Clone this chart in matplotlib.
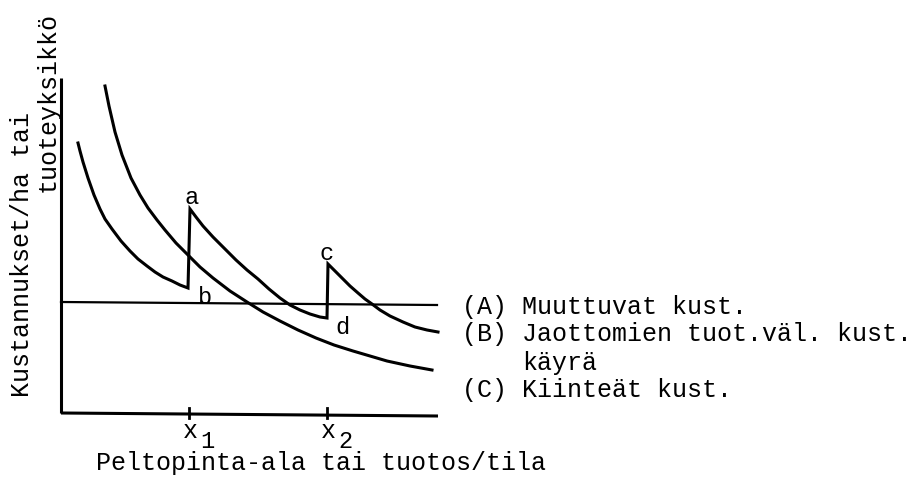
import matplotlib
matplotlib.use("Agg")
import matplotlib.pyplot as plt

# picture units: x to the right of the y axis, y above the x axis
# (B) stepped average cost curve, three pieces with jumps at x1 and x2
b_x = [17, 19, 22, 27, 33, 39, 44, 51, 60, 69, 77, 86, 94, 102, 111, 119,
       127,
       129, 135, 142, 152, 164, 175, 186, 197, 208, 219, 229, 239, 249, 259,
       266,
       267, 274, 281, 289, 297, 304, 311, 319, 329, 342, 354, 366, 377]
b_y = [270, 262, 251, 235, 218, 204, 194, 184, 172, 162, 154, 147, 141, 136,
       132, 128, 125,
       204, 196, 187, 176, 164, 153, 143, 134, 124, 115, 108, 103, 99, 96,
       95,
       149, 142, 135, 127, 120, 114, 109, 103, 97, 91, 86, 83, 81]

# (C) fixed cost curve
c_x = [44, 48, 54, 61, 70, 79, 87, 96, 104, 115, 127, 139, 152, 169, 186,
       202, 219, 237, 255, 273, 292, 309, 326, 349, 371]
c_y = [327, 307, 281, 258, 235, 218, 205, 193, 183, 170, 158, 146, 135, 122,
       111, 101, 92, 83, 75, 68, 62, 57, 52, 47, 43]

# (A) variable cost line
a_x = [0, 376]
a_y = [111, 108]

tick_x = [128, 266]
tick_names = ["1", "2"]

point_names = ["a", "b", "c", "d"]
point_x = [131, 144, 266, 281]
point_y = [216, 116, 160, 86]

legend_lines = ["(A) Muuttuvat kust.", "(B) Jaottomien tuot.väl. kust.",
                "käyrä", "(C) Kiinteät kust."]
legend_x = [401, 401, 461, 401]
legend_y = [106, 79, 50, 23]

FONT = ["Liberation Mono", "DejaVu Sans Mono"]
FS = 18


def main():
    fig = plt.figure(figsize=(9.24, 4.78), dpi=100)
    ax = fig.add_axes([0, 0, 1, 1])
    ax.set_xlim(-61, 863)
    ax.set_ylim(-65, 413)
    ax.axis("off")

    # axes drawn by hand, like the original sketch
    ax.plot([0, 0], [0, 335], color="black", lw=2.2, solid_capstyle="butt")
    ax.plot([0, 377], [0, -3], color="black", lw=2.2, solid_capstyle="butt")
    for tx in tick_x:
        ax.plot([tx, tx], [-5, 5], color="black", lw=2.0)

    ax.plot(a_x, a_y, color="black", lw=1.6)
    ax.plot(b_x, b_y, color="black", lw=2.2, solid_joinstyle="miter")
    ax.plot(c_x, c_y, color="black", lw=2.2)

    for name, px, py in zip(point_names, point_x, point_y):
        ax.text(px, py, name, family=FONT, fontsize=FS - 1,
                ha="center", va="center")

    for tx, name in zip(tick_x, tick_names):
        ax.text(tx + 1, -18, "x", family=FONT, fontsize=FS,
                ha="center", va="center")
        ax.text(tx + 18, -28, name, family=FONT, fontsize=FS - 1,
                ha="center", va="center")

    ax.text(35, -50, "Peltopinta-ala tai tuotos/tila", family=FONT,
            fontsize=FS, ha="left", va="center")

    ax.text(-39, 16, "Kustannukset/ha tai", family=FONT, fontsize=FS,
            rotation=90, ha="center", va="bottom")
    ax.text(-13, 221, "tuoteyksikkö", family=FONT, fontsize=FS,
            rotation=90, ha="center", va="bottom")

    for line, lx, ly in zip(legend_lines, legend_x, legend_y):
        ax.text(lx, ly, line, family=FONT, fontsize=FS,
                ha="left", va="center")

    fig.savefig("out.png", dpi=100)


if __name__ == "__main__":
    main()
